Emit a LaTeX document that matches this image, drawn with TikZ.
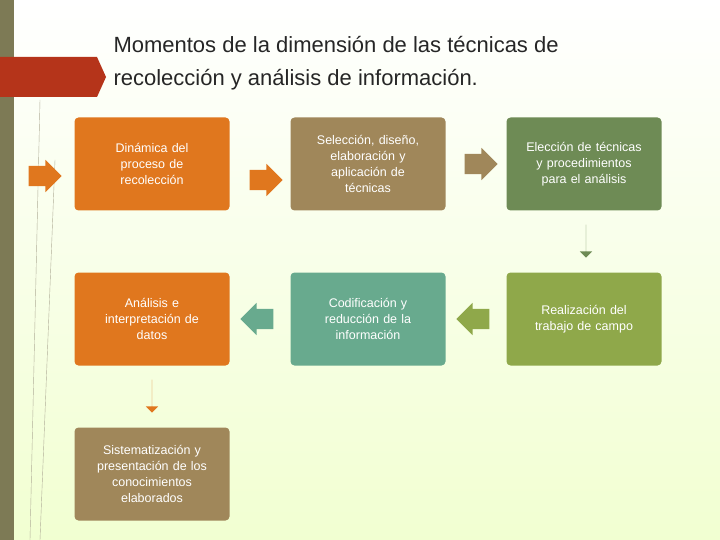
\documentclass[tikz,border=0pt]{standalone}
\usepackage{fontspec}
\setmainfont{Liberation Sans}
\usetikzlibrary{positioning,shapes.arrows}
\definecolor{orangebox}{HTML}{E0771E}
\definecolor{brownbox}{HTML}{A0875A}
\definecolor{greenbox}{HTML}{6E8B55}
\definecolor{tealbox}{HTML}{68AA8E}
\definecolor{olivebox}{HTML}{8FA84A}
\definecolor{stripcol}{HTML}{7D7A55}
\definecolor{tabcol}{HTML}{B5341A}
\begin{document}
\begin{tikzpicture}[x=1pt,y=-1pt,
  stepbox/.style={
    rectangle,
    rounded corners=4pt,
    fill=#1,
    text=white,
    align=center,
    font=\fontsize{12.5}{16}\selectfont,
    inner sep=2pt,
    minimum width=155pt,
    minimum height=93pt,
    text width=145pt
  },
  blockarrow/.style={
    single arrow,
    fill=#1,
    draw=none,
    minimum height=33pt,
    single arrow head extend=6pt,
    single arrow tip angle=90,
    inner xsep=0pt,
    inner ysep=10pt
  }]
  % background
  \shade[top color=white,bottom color=green!30!yellow!18!white] (0,0) rectangle (720,540);
  \useasboundingbox (0,0) rectangle (720,540);
  \fill[stripcol] (0,0) rectangle (14,540);
  \fill[tabcol] (0,57) -- (97,57) -- (106,77) -- (97,97) -- (0,97) -- cycle;
  \draw[stripcol!60,thin] (40,100) -- (30,540);
  \draw[stripcol!60,thin] (55,160) -- (40,540);
  % title
  \node[anchor=north west,align=left,font=\fontsize{22}{33}\selectfont,text=black!85] (title) at (110,33)
    {Momentos de la dimensión de las técnicas de\\recolección y análisis de información.};
  % boxes
  \node[stepbox=orangebox] (dinamica) at (152,164) {Dinámica del\\proceso de\\recolección};
  \node[stepbox=brownbox] (seleccion) at (368,164) {Selección, diseño,\\elaboración y\\aplicación de\\técnicas};
  \node[stepbox=greenbox] (eleccion) at (584,164) {Elección de técnicas\\y procedimientos\\para el análisis};
  \node[stepbox=olivebox] (realizacion) at (584,319) {Realización del\\trabajo de campo};
  \node[stepbox=tealbox] (codificacion) at (368,319) {Codificación y\\reducción de la\\información};
  \node[stepbox=orangebox] (analisis) at (152,319) {Análisis e\\interpretación de\\datos};
  \node[stepbox=brownbox] (sistematizacion) at (152,474) {Sistematización y\\presentación de los\\conocimientos\\elaborados};
  % arrows
  \node[blockarrow=orangebox] (arr0) at (40,176) {};
  \node[blockarrow=orangebox] (arr1) at (261,180) {};
  \node[blockarrow=brownbox] (arr2) at (476,164) {};
  \node[blockarrow=greenbox,shape border rotate=270] (arr3) at (586,241) {};
  \node[blockarrow=olivebox,shape border rotate=180] (arr4) at (478,319) {};
  \node[blockarrow=tealbox,shape border rotate=180] (arr5) at (262,319) {};
  \node[blockarrow=orangebox,shape border rotate=270] (arr6) at (152,396) {};
\end{tikzpicture}
\end{document}
